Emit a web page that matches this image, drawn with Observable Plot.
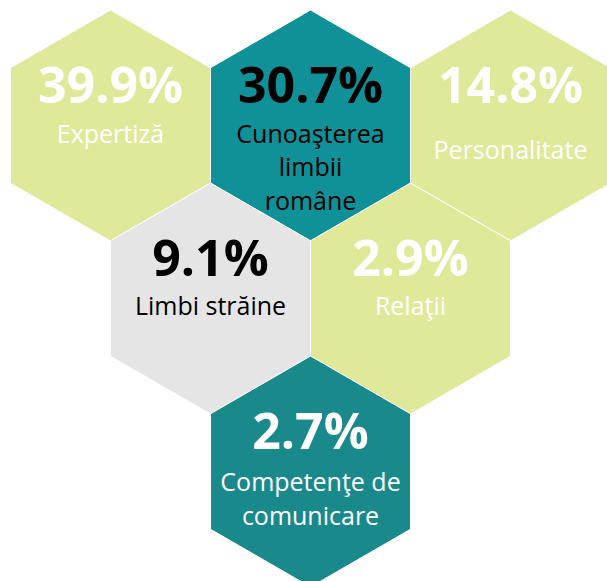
<!DOCTYPE html>
<html><head><meta charset="utf-8">
<script src="https://cdn.jsdelivr.net/npm/d3@7"></script>
<script src="https://cdn.jsdelivr.net/npm/@observablehq/plot@0.6"></script>
<style>
body{margin:0;background:#fff;}
#chart svg{display:block;font-family:"Open Sans",sans-serif;}
</style>
</head><body><div id="chart"></div>
<script>
// Data
const categories = ["Expertiză", "Cunoaşterea\nlimbii\nromâne", "Personalitate", "Limbi străine", "Relaţii", "Competenţe de\ncomunicare"];
const values = [39.9, 30.7, 14.8, 9.1, 2.9, 2.7];

// Layout (honeycomb cell per category) and styles
const gridCol = [0, 1, 2, 0.5, 1.5, 1];
const gridRow = [0, 0, 0, 1, 1, 2];
const fills = ["#e0e899", "#0f9197", "#e0e899", "#e5e5e5", "#e0e899", "#19898b"];
const textColors = ["#ffffff", "#000000", "#ffffff", "#000000", "#ffffff", "#ffffff"];
const labelDy = [17, 84, 33, 16, 16, 53];

const data = categories.map((c, i) => ({
  label: c, value: values[i], col: gridCol[i], row: gridRow[i],
  fill: fills[i], tc: textColors[i]
}));

const W = 607, H = 581, colPx = 200, rowPx = 173, x0 = 110, y0 = 125;

const chart = Plot.plot({
  width: W, height: H, margin: 0,
  x: {domain: [-x0 / colPx, (W - x0) / colPx], range: [0, W], axis: null},
  y: {domain: [-y0 / rowPx, (H - y0) / rowPx], range: [0, H], axis: null},
  color: {type: "identity"},
  marks: [
    Plot.hexagon(data, {x: "col", y: "row", r: 100, fill: "fill", stroke: "white", strokeWidth: 1}),
    Plot.text(data, {x: "col", y: "row", text: d => d.value.toFixed(1) + "%", fill: "tc",
      fontSize: 50, fontWeight: "bold", lineAnchor: "bottom", dy: -23}),
    ...data.map((d, i) => Plot.text([d], {x: "col", y: "row", text: "label", fill: "tc",
      fontSize: 25, lineAnchor: "bottom", lineHeight: 1.33, dy: labelDy[i]}))
  ]
});
document.getElementById("chart").appendChild(chart);
</script>
</body></html>
